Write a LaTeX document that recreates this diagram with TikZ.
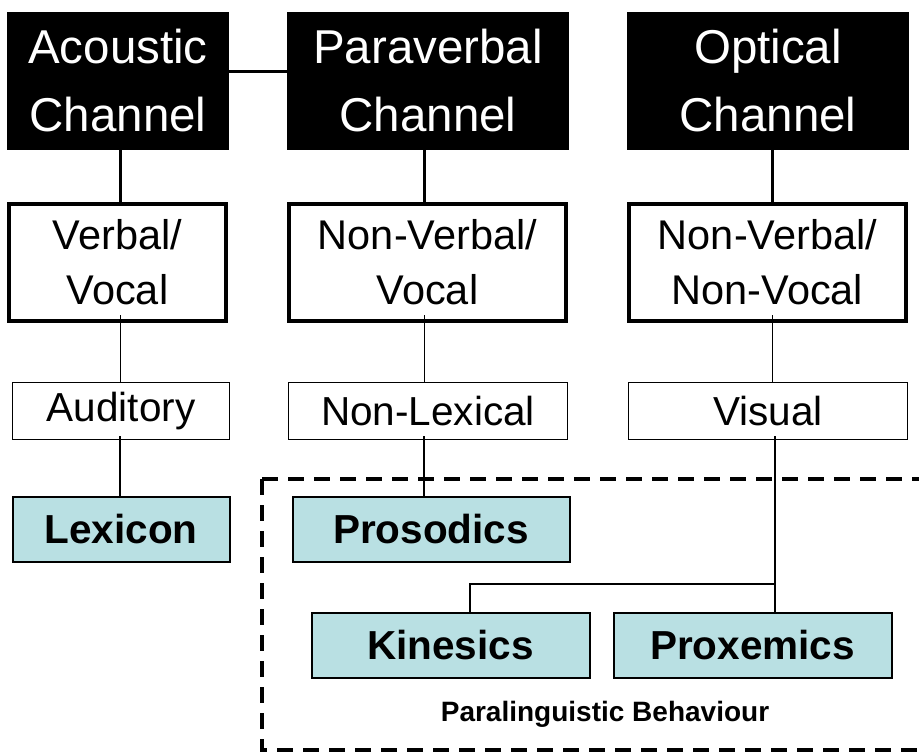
\documentclass[tikz,border=0pt]{standalone}
\usepackage{fontspec}
\setmainfont{Liberation Sans}
\definecolor{paleteal}{HTML}{B9E0E3}
\begin{document}
\begin{tikzpicture}[x=1pt,y=-1pt,
  channel/.style={fill=black,text=white,inner sep=0pt,align=center,
    minimum height=138pt,font=\fontsize{47.5}{68}\selectfont},
  mode/.style={draw=black,line width=4pt,fill=white,inner sep=0pt,align=center,
    minimum height=117pt,font=\fontsize{41.5}{55}\selectfont},
  sense/.style={draw=black,line width=1.5pt,fill=white,inner sep=0pt,
    minimum height=57pt,font=\fontsize{40.5}{46}\selectfont},
  category/.style={draw=black,line width=2pt,fill=paleteal,inner sep=0pt,
    minimum height=65pt,font=\fontsize{40.5}{46}\selectfont\bfseries},
  heavy/.style={line width=3pt},
  light/.style={line width=1.5pt},
  groupframe/.style={line width=3.5pt,dash pattern=on 16pt off 10pt}]
\useasboundingbox (0,0) rectangle (919,752);

% paralinguistic group frame (runs off the right edge)
\draw[groupframe] (262,479) -- (262,750) -- (930,750);
\draw[groupframe] (262,479) -- (930,479);
\node[font=\fontsize{28}{32}\selectfont\bfseries] (plabel) at (605,714) {Paralinguistic Behaviour};

% channels
\node[channel,minimum width=222pt] (acou) at (118,81) {Acoustic\\Channel};
\node[channel,minimum width=282pt] (para) at (428,81) {Paraverbal\\Channel};
\node[channel,minimum width=282pt] (opti) at (768,81) {Optical\\Channel};

% vocal / verbal modes
\node[mode,minimum width=217pt] (vv) at (117.5,262.5) {Verbal/\\Vocal};
\node[mode,minimum width=277pt] (nvv) at (427.5,262.5) {Non-Verbal/\\Vocal};
\node[mode,minimum width=277pt] (nvnv) at (767.5,262.5) {Non-Verbal/\\Non-Vocal};

% perception
\node[sense,minimum width=217pt] (aud) at (121,411) {Auditory};
\node[sense,minimum width=279pt] (nlex) at (428,411) {Non-Lexical};
\node[sense,minimum width=279pt] (vis) at (768,411) {Visual};

% categories
\node[category,minimum width=217pt] (lex) at (121,529) {Lexicon};
\node[category,minimum width=277pt] (pros) at (431,529) {Prosodics};
\node[category,minimum width=278pt] (kin) at (450.5,645.5) {Kinesics};
\node[category,minimum width=278pt] (prox) at (752.5,645.5) {Proxemics};

% heavy links between channels and modes
\draw[heavy] (acou.east |- 0,72) -- (para.west |- 0,72);
\draw[heavy] ([xshift=2pt]acou.south) -- ([xshift=2pt]acou.south |- vv.north);
\draw[heavy] ([xshift=-4pt]para.south) -- ([xshift=-4pt]para.south |- nvv.north);
\draw[heavy] ([xshift=4pt]opti.south) -- ([xshift=4pt]opti.south |- nvnv.north);

% light links below, starting just inside the upper boxes
\draw[light] ([xshift=3pt,yshift=8pt]vv.south) -- ([xshift=3pt]vv.south |- aud.north);
\draw[light] ([xshift=-3pt,yshift=8pt]nvv.south) -- ([xshift=-3pt]nvv.south |- nlex.north);
\draw[light] ([xshift=5pt,yshift=8pt]nvnv.south) -- ([xshift=5pt]nvnv.south |- vis.north);
\draw[light] ([xshift=-1pt,yshift=4pt]aud.south) -- ([xshift=-1pt]aud.south |- lex.north);
\draw[light] ([xshift=-4pt,yshift=4pt]nlex.south) -- ([xshift=-4pt]nlex.south |- pros.north);
\coordinate (fork) at ([xshift=7pt]vis.south |- 0,584);
\draw[light] ([xshift=7pt,yshift=4pt]vis.south) -- ([xshift=7pt]vis.south |- prox.north);
\draw[light] (fork) -- (fork -| 470,0) -- (470,0 |- kin.north);
\end{tikzpicture}
\end{document}
